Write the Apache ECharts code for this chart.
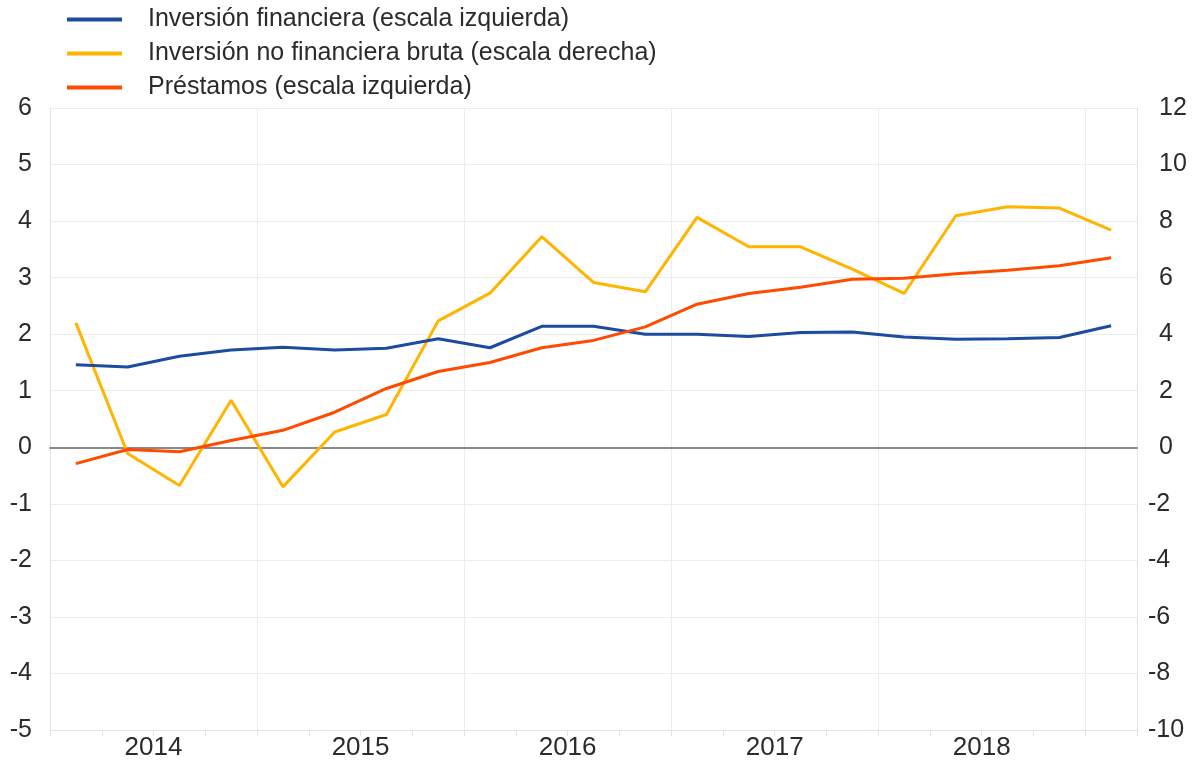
<!DOCTYPE html>
<html>
<head>
<meta charset="utf-8">
<script src="https://cdn.jsdelivr.net/npm/echarts@6/dist/echarts.min.js"></script>
<style>
html,body{margin:0;padding:0;background:#fff;}
#chart{width:1198px;height:763px;}
</style>
</head>
<body>
<div id="chart"></div>
<script>
const categories = ['2014Q1','2014Q2','2014Q3','2014Q4','2015Q1','2015Q2','2015Q3','2015Q4',
  '2016Q1','2016Q2','2016Q3','2016Q4','2017Q1','2017Q2','2017Q3','2017Q4',
  '2018Q1','2018Q2','2018Q3','2018Q4','2019Q1'];
const yearLabels = ['2014','2015','2016','2017','2018'];
const inversionFinanciera = [1.46,1.42,1.61,1.72,1.77,1.72,1.75,1.92,1.76,2.14,2.14,2.00,2.00,1.96,2.03,2.04,1.95,1.91,1.92,1.94,2.15];
const inversionNoFinanciera = [4.40,-0.22,-1.35,1.66,-1.40,0.54,1.16,4.47,5.45,7.45,5.83,5.50,8.13,7.09,7.09,6.30,5.44,8.19,8.51,8.46,7.68];
const prestamos = [-0.29,-0.04,-0.08,0.12,0.30,0.62,1.04,1.34,1.50,1.76,1.89,2.13,2.53,2.72,2.83,2.97,2.99,3.07,3.13,3.21,3.35];
const seriesNames = ['Inversión financiera (escala izquierda)','Inversión no financiera bruta (escala derecha)','Préstamos (escala izquierda)'];

const FONT = '"Liberation Sans", Arial, sans-serif';
const TXT = '#2b2b2b';
const chart = echarts.init(document.getElementById('chart'));
chart.setOption({
  animation: false,
  backgroundColor: '#fff',
  textStyle: {fontFamily: FONT},
  legend: {
    orient: 'vertical',
    left: 62, top: 2,
    itemWidth: 55, itemHeight: 4, itemGap: 9,
    icon: 'rect',
    textStyle: {fontSize: 25, color: TXT, fontFamily: FONT, padding: [0,0,0,21]},
    data: seriesNames
  },
  grid: {left: 50, right: 61, top: 108, bottom: 33, containLabel: false},
  xAxis: [
    {
      type: 'category', data: categories, position: 'bottom', boundaryGap: true,
      axisLine: {onZero: false, lineStyle: {color: '#e2e2e2', width: 1}},
      axisTick: {show: true, interval: 0, length: 6, lineStyle: {color: '#e2e2e2'}},
      axisLabel: {show: false},
      splitLine: {show: true, interval: function(i){ return i % 4 === 0; }, lineStyle: {color: '#ececec', width: 1}}
    },
    {
      type: 'value', position: 'bottom', min: 0, max: categories.length, interval: 2,
      axisLine: {show: false}, axisTick: {show: false}, splitLine: {show: false},
      axisLabel: {
        show: true, fontSize: 26, color: TXT, margin: 5, fontFamily: FONT,
        showMinLabel: true, showMaxLabel: false,
        formatter: function(v){ return (v % 4 === 2) ? (yearLabels[(v - 2) / 4] || '') : ''; }
      }
    },
    {
      type: 'category', data: categories, position: 'bottom',
      axisLine: {show: true, onZero: true, onZeroAxisIndex: 0, lineStyle: {color: '#8a8a8a', width: 2}},
      axisTick: {show: false}, axisLabel: {show: false}, splitLine: {show: false}
    }
  ],
  yAxis: [
    {
      type: 'value', min: -5, max: 6, interval: 1, position: 'left',
      axisLine: {show: true, lineStyle: {color: '#e2e2e2'}},
      axisTick: {show: false},
      axisLabel: {fontSize: 25, color: TXT, margin: 18, fontFamily: FONT},
      splitLine: {show: true, lineStyle: {color: '#ececec', width: 1}}
    },
    {
      type: 'value', min: -10, max: 12, interval: 2, position: 'right',
      axisLine: {show: true, lineStyle: {color: '#e2e2e2'}},
      axisTick: {show: false},
      axisLabel: {
        fontSize: 25, color: TXT, margin: 11, fontFamily: FONT,
        formatter: function(v){ return v >= 0 ? '{p|' + v + '}' : '{n|' + v + '}'; },
        rich: {
          p: {fontSize: 25, color: TXT, fontFamily: FONT, padding: [0,0,0,11]},
          n: {fontSize: 25, color: TXT, fontFamily: FONT}
        }
      },
      splitLine: {show: false}
    }
  ],
  series: [
    {
      name: seriesNames[0], type: 'line', xAxisIndex: 0, yAxisIndex: 0,
      data: inversionFinanciera, symbol: 'none',
      itemStyle: {color: '#1c4ba0'}, lineStyle: {color: '#1c4ba0', width: 3}, z: 3
    },
    {
      name: seriesNames[1], type: 'line', xAxisIndex: 0, yAxisIndex: 1,
      data: inversionNoFinanciera, symbol: 'none',
      itemStyle: {color: '#ffb400'}, lineStyle: {color: '#ffb400', width: 3}, z: 2
    },
    {
      name: seriesNames[2], type: 'line', xAxisIndex: 0, yAxisIndex: 0,
      data: prestamos, symbol: 'none',
      itemStyle: {color: '#ff4b00'}, lineStyle: {color: '#ff4b00', width: 3}, z: 4
    }
  ]
});
</script>
</body>
</html>
